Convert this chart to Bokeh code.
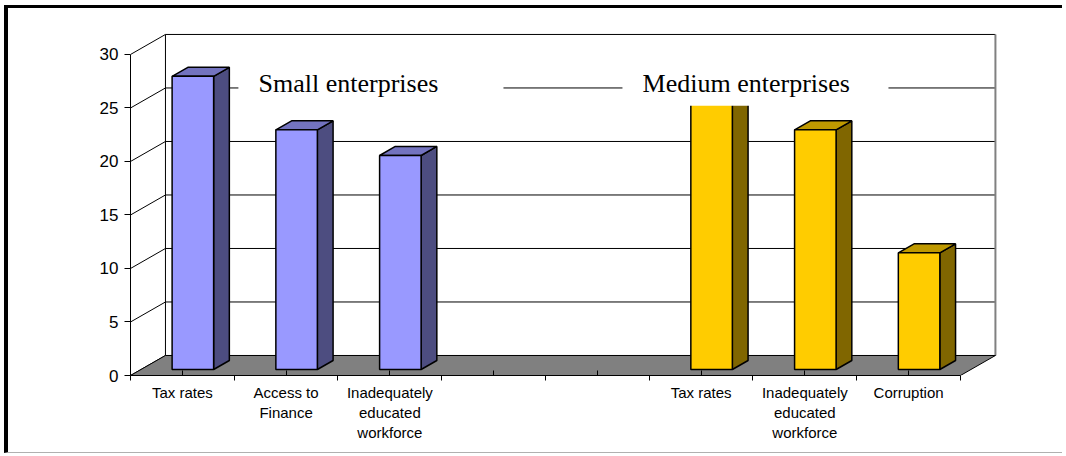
from bokeh.plotting import figure
from bokeh.models import FixedTicker, BoxAnnotation, Label, Range1d
from bokeh.embed import file_html
from bokeh.resources import INLINE

# ---------------- data ----------------
small_categories = ["Tax rates", "Access to\nFinance", "Inadequately\neducated\nworkforce"]
small_values = [27.4, 22.4, 20.0]
gap_categories = ["", ""]
medium_categories = ["Tax rates", "Inadequately\neducated\nworkforce", "Corruption"]
medium_values = [26.0, 22.4, 10.9]
y_ticks = [0, 5, 10, 15, 20, 25, 30]
series_names = ["Small enterprises", "Medium enterprises"]

# ---------------- styling / geometry constants ----------------
DX, DY = 0.337, 1.87          # depth offset of the 3D box (data units)
BAR_W = 0.4
FRONT, BACK = 0.3, 0.75       # bar depth position (fraction of box depth)
small_colors = ("#9999FF", "#4D4D80", "#7373BF")   # front, side, top
medium_colors = ("#FFCC00", "#806600", "#BF9900")

all_labels = small_categories + gap_categories + medium_categories
n_cat = len(all_labels)

p = figure(width=1058, height=448, output_backend="svg", toolbar_location=None,
           x_range=Range1d(0, 8.357), y_range=Range1d(0, 32.24),
           min_border_left=122, min_border_right=69, min_border_top=22, min_border_bottom=81)
p.styles = {"margin-left": "4px", "margin-top": "5px",
            "border-left": "4px solid black", "border-top": "3px solid black",
            "border-bottom": "1px solid #b0b0b0"}
p.outline_line_color = None
p.xgrid.visible = False
p.ygrid.visible = False
p.background_fill_color = "white"
p.border_fill_color = "white"

# back wall grid lines
p.multi_line(xs=[[DX, n_cat + DX] for v in y_ticks], ys=[[v + DY, v + DY] for v in y_ticks],
             line_color="black", line_width=1)
# left wall diagonals
p.multi_line(xs=[[0, DX] for v in y_ticks], ys=[[v, v + DY] for v in y_ticks],
             line_color="black", line_width=1)
# back wall left edge
p.line(x=[DX, DX], y=[DY, y_ticks[-1] + DY], line_color="black", line_width=1)
# back wall right edge
p.line(x=[n_cat + DX, n_cat + DX], y=[DY, y_ticks[-1] + DY], line_color="#808080", line_width=2)

# floor
p.patch(x=[0, n_cat, n_cat + DX, DX], y=[0, 0, DY, DY], fill_color="#808080",
        line_color="black", line_width=1)

def draw_bars(values, offset, colors):
    front_c, side_c, top_c = colors
    fl, fr, fb, ft = [], [], [], []
    sxs, sys_, txs, tys = [], [], [], []
    ddx, ddy = (BACK - FRONT) * DX, (BACK - FRONT) * DY
    for i, v in enumerate(values):
        c = offset + i + 0.5
        x0 = c - BAR_W / 2 + FRONT * DX
        x1 = c + BAR_W / 2 + FRONT * DX
        y0 = FRONT * DY
        y1 = v + FRONT * DY
        fl.append(x0); fr.append(x1); fb.append(y0); ft.append(y1)
        sxs.append([x1, x1 + ddx, x1 + ddx, x1])
        sys_.append([y0, y0 + ddy, y1 + ddy, y1])
        txs.append([x0, x1, x1 + ddx, x0 + ddx])
        tys.append([y1, y1, y1 + ddy, y1 + ddy])
    p.patches(xs=sxs, ys=sys_, fill_color=side_c, line_color="black", line_width=1.5)
    p.patches(xs=txs, ys=tys, fill_color=top_c, line_color="black", line_width=1.5)
    p.quad(left=fl, right=fr, bottom=fb, top=ft, fill_color=front_c,
           line_color="black", line_width=1.5)

draw_bars(small_values, 0, small_colors)
draw_bars(medium_values, len(small_values) + len(gap_categories), medium_colors)

# axes
p.yaxis.ticker = FixedTicker(ticks=y_ticks)
p.yaxis.bounds = (y_ticks[0], y_ticks[-1])
p.yaxis.axis_line_color = "black"
p.yaxis.major_tick_line_color = "black"
p.yaxis.major_tick_out = 6
p.yaxis.major_tick_in = 0
p.yaxis.minor_tick_line_color = None
p.yaxis.major_label_standoff = 6
p.yaxis.major_label_text_font = "Liberation Sans"
p.yaxis.major_label_text_font_size = "17px"
p.yaxis.major_label_text_color = "black"

centers = [i + 0.5 for i in range(n_cat)]
p.xaxis.ticker = FixedTicker(ticks=centers, minor_ticks=list(range(n_cat + 1)))
p.xaxis.bounds = (0, n_cat)
p.xaxis.major_label_overrides = {c: lab for c, lab in zip(centers, all_labels)}
p.xaxis.axis_line_color = "black"
p.xaxis.major_tick_line_color = "black"
p.xaxis.major_tick_in = 5
p.xaxis.major_tick_out = 0
p.xaxis.minor_tick_line_color = "black"
p.xaxis.minor_tick_in = 0
p.xaxis.minor_tick_out = 5
p.xaxis.major_label_standoff = 3
p.xaxis.major_label_text_font = "Liberation Sans"
p.xaxis.major_label_text_font_size = "15px"
p.xaxis.major_label_text_color = "black"

# legend text boxes
legend_boxes = [(1.04, 3.595), (4.742, 7.306)]
for (l, r), name in zip(legend_boxes, series_names):
    p.add_layout(BoxAnnotation(left=l, right=r, bottom=25.2, top=29.3, fill_color="white",
                               fill_alpha=1.0, line_color=None))
    p.add_layout(Label(x=l + 0.194, y=27.25, text=name, text_font="Liberation Serif",
                       text_font_size="26px", text_color="black", text_baseline="alphabetic"))

open("out.html", "w").write(file_html(p, INLINE))
